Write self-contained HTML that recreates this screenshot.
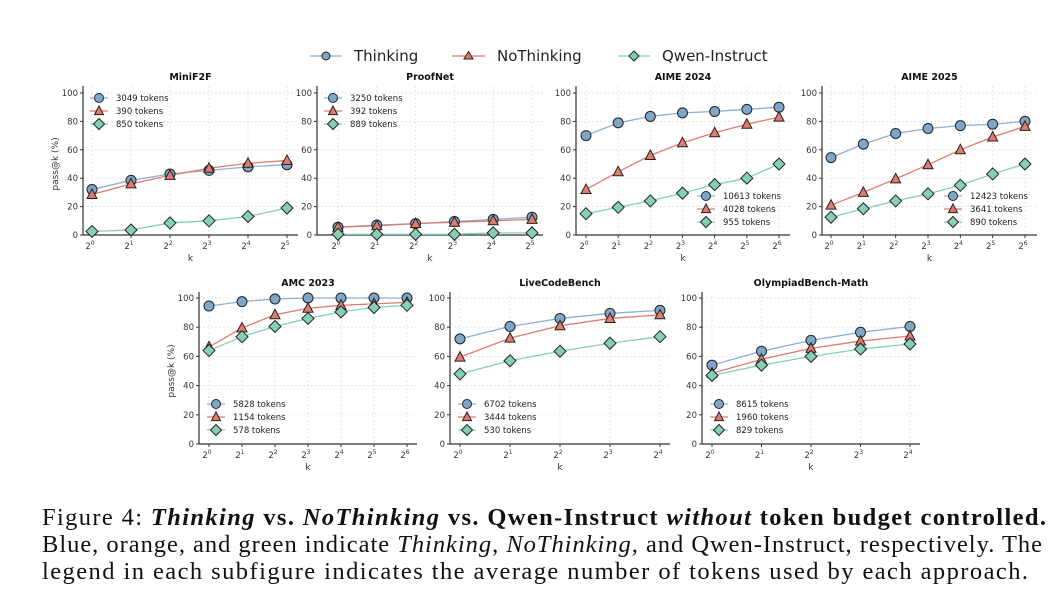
<!DOCTYPE html>
<html><head><meta charset="utf-8"><style>
html,body{margin:0;padding:0;background:#fff;width:1062px;height:600px;overflow:hidden}
svg{display:block}
</style></head><body>
<svg id="fig" width="1062" height="600" xmlns="http://www.w3.org/2000/svg" font-family="DejaVu Sans, Liberation Sans, sans-serif">
<g id="top-legend">
  <line x1="310" y1="56" x2="342" y2="56" stroke="#8fb1d1" stroke-width="1.3"/>
  <circle cx="326" cy="56" r="4" fill="#7ea6c9" stroke="#222" stroke-width="1"/>
  <text x="354" y="61" font-size="15" fill="#222">Thinking</text>
  <line x1="452" y1="56" x2="485" y2="56" stroke="#e07b6e" stroke-width="1.3"/>
  <polygon points="468.5,51.5 473,59 464,59" fill="#e07b6e" stroke="#222" stroke-width="1"/>
  <text x="497" y="61" font-size="15" fill="#222">NoThinking</text>
  <line x1="618" y1="56" x2="650" y2="56" stroke="#86cfb7" stroke-width="1.3"/>
  <polygon points="634,51 639,56 634,61 629,56" fill="#86cfb7" stroke="#222" stroke-width="1"/>
  <text x="662" y="61" font-size="15" fill="#222">Qwen-Instruct</text>
</g>
<g id="panels"></g>
<g font-family="Liberation Serif, serif" font-size="24.5" fill="#111">
  <text x="42" y="525" textLength="1004" lengthAdjust="spacing">Figure 4: <tspan font-weight="bold" font-style="italic">Thinking</tspan><tspan font-weight="bold"> vs. </tspan><tspan font-weight="bold" font-style="italic">NoThinking</tspan><tspan font-weight="bold"> vs. Qwen-Instruct </tspan><tspan font-weight="bold" font-style="italic">without</tspan><tspan font-weight="bold"> token budget controlled.</tspan></text>
  <text x="42" y="552" textLength="1000" lengthAdjust="spacing">Blue, orange, and green indicate <tspan font-style="italic">Thinking</tspan>, <tspan font-style="italic">NoThinking</tspan>, and Qwen-Instruct, respectively. The</text>
  <text x="42" y="579" textLength="986" lengthAdjust="spacing">legend in each subfigure indicates the average number of tokens used by each approach.</text>
</g>
</svg>
<script>
const titles = ["MiniF2F","ProofNet","AIME 2024","AIME 2025","AMC 2023","LiveCodeBench","OlympiadBench-Math"];
const thinking = [
 [32,38.5,43,45.5,48,49.5],
 [5.5,7,8,9.5,11,12.5],
 [70,79,83.5,86,87,88.5,90],
 [54.5,64,71.5,75,77,78,80],
 [94.5,97.5,99.3,100,100,100,100],
 [72,80.5,86,89.5,91.5],
 [54,63.5,71,76.5,80.5]
];
const noThinking = [
 [28.5,36,42,47,50.5,52.5],
 [5.5,6.5,8,9,10,11],
 [32,44.5,56,65,72,78,83],
 [21,30,39.5,49.5,60,69,76.5],
 [66.5,79.5,88.5,93,95,96,97],
 [59.5,72.5,81,86,88.5],
 [48.5,58,65.5,70.5,74]
];
const qwen = [
 [2.5,3.5,8.5,10,13,19],
 [0.5,0.5,0.5,0.5,1.5,1.5],
 [15,19.5,24,29.5,35.5,40,50],
 [12.5,18.5,24,29,35,43,50],
 [64,73.5,80.5,86,90.5,93.5,95],
 [48,57,63.5,69,73.5],
 [47,54,60,65,68.5]
];
const tokThinking = ["3049","3250","10613","12423","5828","6702","8615"];
const tokNo = ["390","392","4028","3641","1154","3444","1960"];
const tokQwen = ["850","889","955","890","578","530","829"];
const yTicks = [0,20,40,60,80,100];

const L = [
 {x0:83,x1:298,y0:235,y100:93,top:86,first:92,last:287,leg:"tl",ylab:true},
 {x0:317,x1:543,y0:235,y100:93,top:86,first:338,last:532,leg:"tl"},
 {x0:576,x1:790,y0:235,y100:93,top:86,first:586,last:779,leg:"br"},
 {x0:822,x1:1037,y0:235,y100:93,top:86,first:831,last:1025,leg:"br"},
 {x0:199,x1:417,y0:444,y100:298,top:292,first:209,last:407,leg:"bl",ylab:true},
 {x0:450,x1:670,y0:444,y100:298,top:292,first:460,last:660,leg:"bl"},
 {x0:702,x1:920,y0:444,y100:298,top:292,first:712,last:910,leg:"bl"}
];
const NS="http://www.w3.org/2000/svg";
const root=document.getElementById("panels");
function mk(tag,attrs,parent){const e=document.createElementNS(NS,tag);for(const k in attrs)e.setAttribute(k,attrs[k]);(parent||root).appendChild(e);return e;}
const COL={t:{line:"#8fb1d1",fill:"#7ea6c9"},n:{line:"#e07b6e",fill:"#e07b6e"},q:{line:"#86cfb7",fill:"#86cfb7"}};
function marker(kind,x,y,g,r){
  r=r||5;
  let m;
  if(kind==="t") m=mk("circle",{cx:x,cy:y,r:r,fill:COL.t.fill,stroke:"#222","stroke-width":1},g);
  else if(kind==="n") m=mk("polygon",{points:`${x},${y-r-0.5} ${x+r},${y+r*0.8} ${x-r},${y+r*0.8}`,fill:COL.n.fill,stroke:"#222","stroke-width":1},g);
  else m=mk("polygon",{points:`${x},${y-r-1} ${x+r+1},${y} ${x},${y+r+1} ${x-r-1},${y}`,fill:COL.q.fill,stroke:"#222","stroke-width":1},g);
  return m;
}
titles.forEach((title,i)=>{
  const p=L[i];
  const g=mk("g",{});
  
  
  const n=thinking[i].length;
  const xs=j=>p.first+(p.last-p.first)*j/(n-1);
  const ys=v=>p.y0-(p.y0-p.y100)*v/100;
  yTicks.forEach(t=>{mk("line",{x1:p.x0,x2:p.x1,y1:ys(t),y2:ys(t),stroke:"#ddd","stroke-width":0.7,"stroke-dasharray":"2,2"},g);});
  for(let j=0;j<n;j++) mk("line",{x1:xs(j),x2:xs(j),y1:p.top,y2:p.y0,stroke:"#ddd","stroke-width":0.7,"stroke-dasharray":"2,2"},g);
  mk("line",{x1:p.x0,x2:p.x0,y1:p.top,y2:p.y0,stroke:"#333","stroke-width":1.2},g);
  mk("line",{x1:p.x0,x2:p.x1,y1:p.y0,y2:p.y0,stroke:"#333","stroke-width":1.2},g);
  yTicks.forEach(t=>{
    mk("line",{x1:p.x0-3,x2:p.x0,y1:ys(t),y2:ys(t),stroke:"#333","stroke-width":1},g);
    const tx=mk("text",{x:p.x0-5,y:ys(t)+3,"font-size":8.5,"text-anchor":"end",fill:"#333"},g);
    tx.textContent=t;
    
    
  });
  for(let j=0;j<n;j++){
    mk("line",{x1:xs(j),x2:xs(j),y1:p.y0,y2:p.y0+3,stroke:"#333","stroke-width":1},g);
    const tx=mk("text",{x:xs(j)-2,y:p.y0+14,"font-size":8.5,"text-anchor":"middle",fill:"#333"},g);
    tx.innerHTML='2<tspan dy="-4" font-size="6">'+j+'</tspan>';
    
    
  }
  const xl=mk("text",{x:(p.x0+p.x1)/2,y:p.y0+26,"font-size":9,"text-anchor":"middle",fill:"#333"},g);
  xl.textContent="k";
  
  
  const tt=mk("text",{x:(p.x0+p.x1)/2,y:p.top-6,"font-size":9.5,"font-weight":"bold","text-anchor":"middle",fill:"#111"},g);
  tt.textContent=title;
  
  
  if(p.ylab){
    const yl=mk("text",{x:0,y:0,"font-size":9,"text-anchor":"middle",fill:"#333",transform:`translate(${p.x0-25},${(p.y0+p.y100)/2}) rotate(-90)`},g);
    yl.textContent="pass@k (%)";
    
    
  }
  const series=[["t",thinking[i]],["n",noThinking[i]],["q",qwen[i]]];
  series.forEach(([k,vals])=>{
    const pts=vals.map((v,j)=>xs(j)+","+ys(v)).join(" ");
    const pl=mk("polyline",{points:pts,fill:"none",stroke:COL[k].line,"stroke-width":1.3},g);
    
    
  });
  series.forEach(([k,vals])=>{
    vals.forEach((v,j)=>{
      const m=marker(k,xs(j),ys(v),g);
      
      
    });
  });
  let mx,ry;
  if(p.leg==="tl"){mx=p.x0+16;ry=p.top+12;}
  else if(p.leg==="br"){mx=p.x1-84;ry=p.y0-39;}
  else {mx=p.x0+17;ry=p.y0-40;}
  const labs=[tokThinking[i],tokNo[i],tokQwen[i]];
  ["t","n","q"].forEach((k,r)=>{
    const y=ry+r*13;
    mk("line",{x1:mx-9,x2:mx+9,y1:y,y2:y,stroke:COL[k].line,"stroke-width":1.3},g);
    marker(k,mx,y,g,4.5);
    const lt=mk("text",{x:mx+17,y:y+3.2,"font-size":8.5,fill:"#222"},g);
    lt.textContent=labs[r]+" tokens";
    
    
  });
});
</script>
</body></html>
